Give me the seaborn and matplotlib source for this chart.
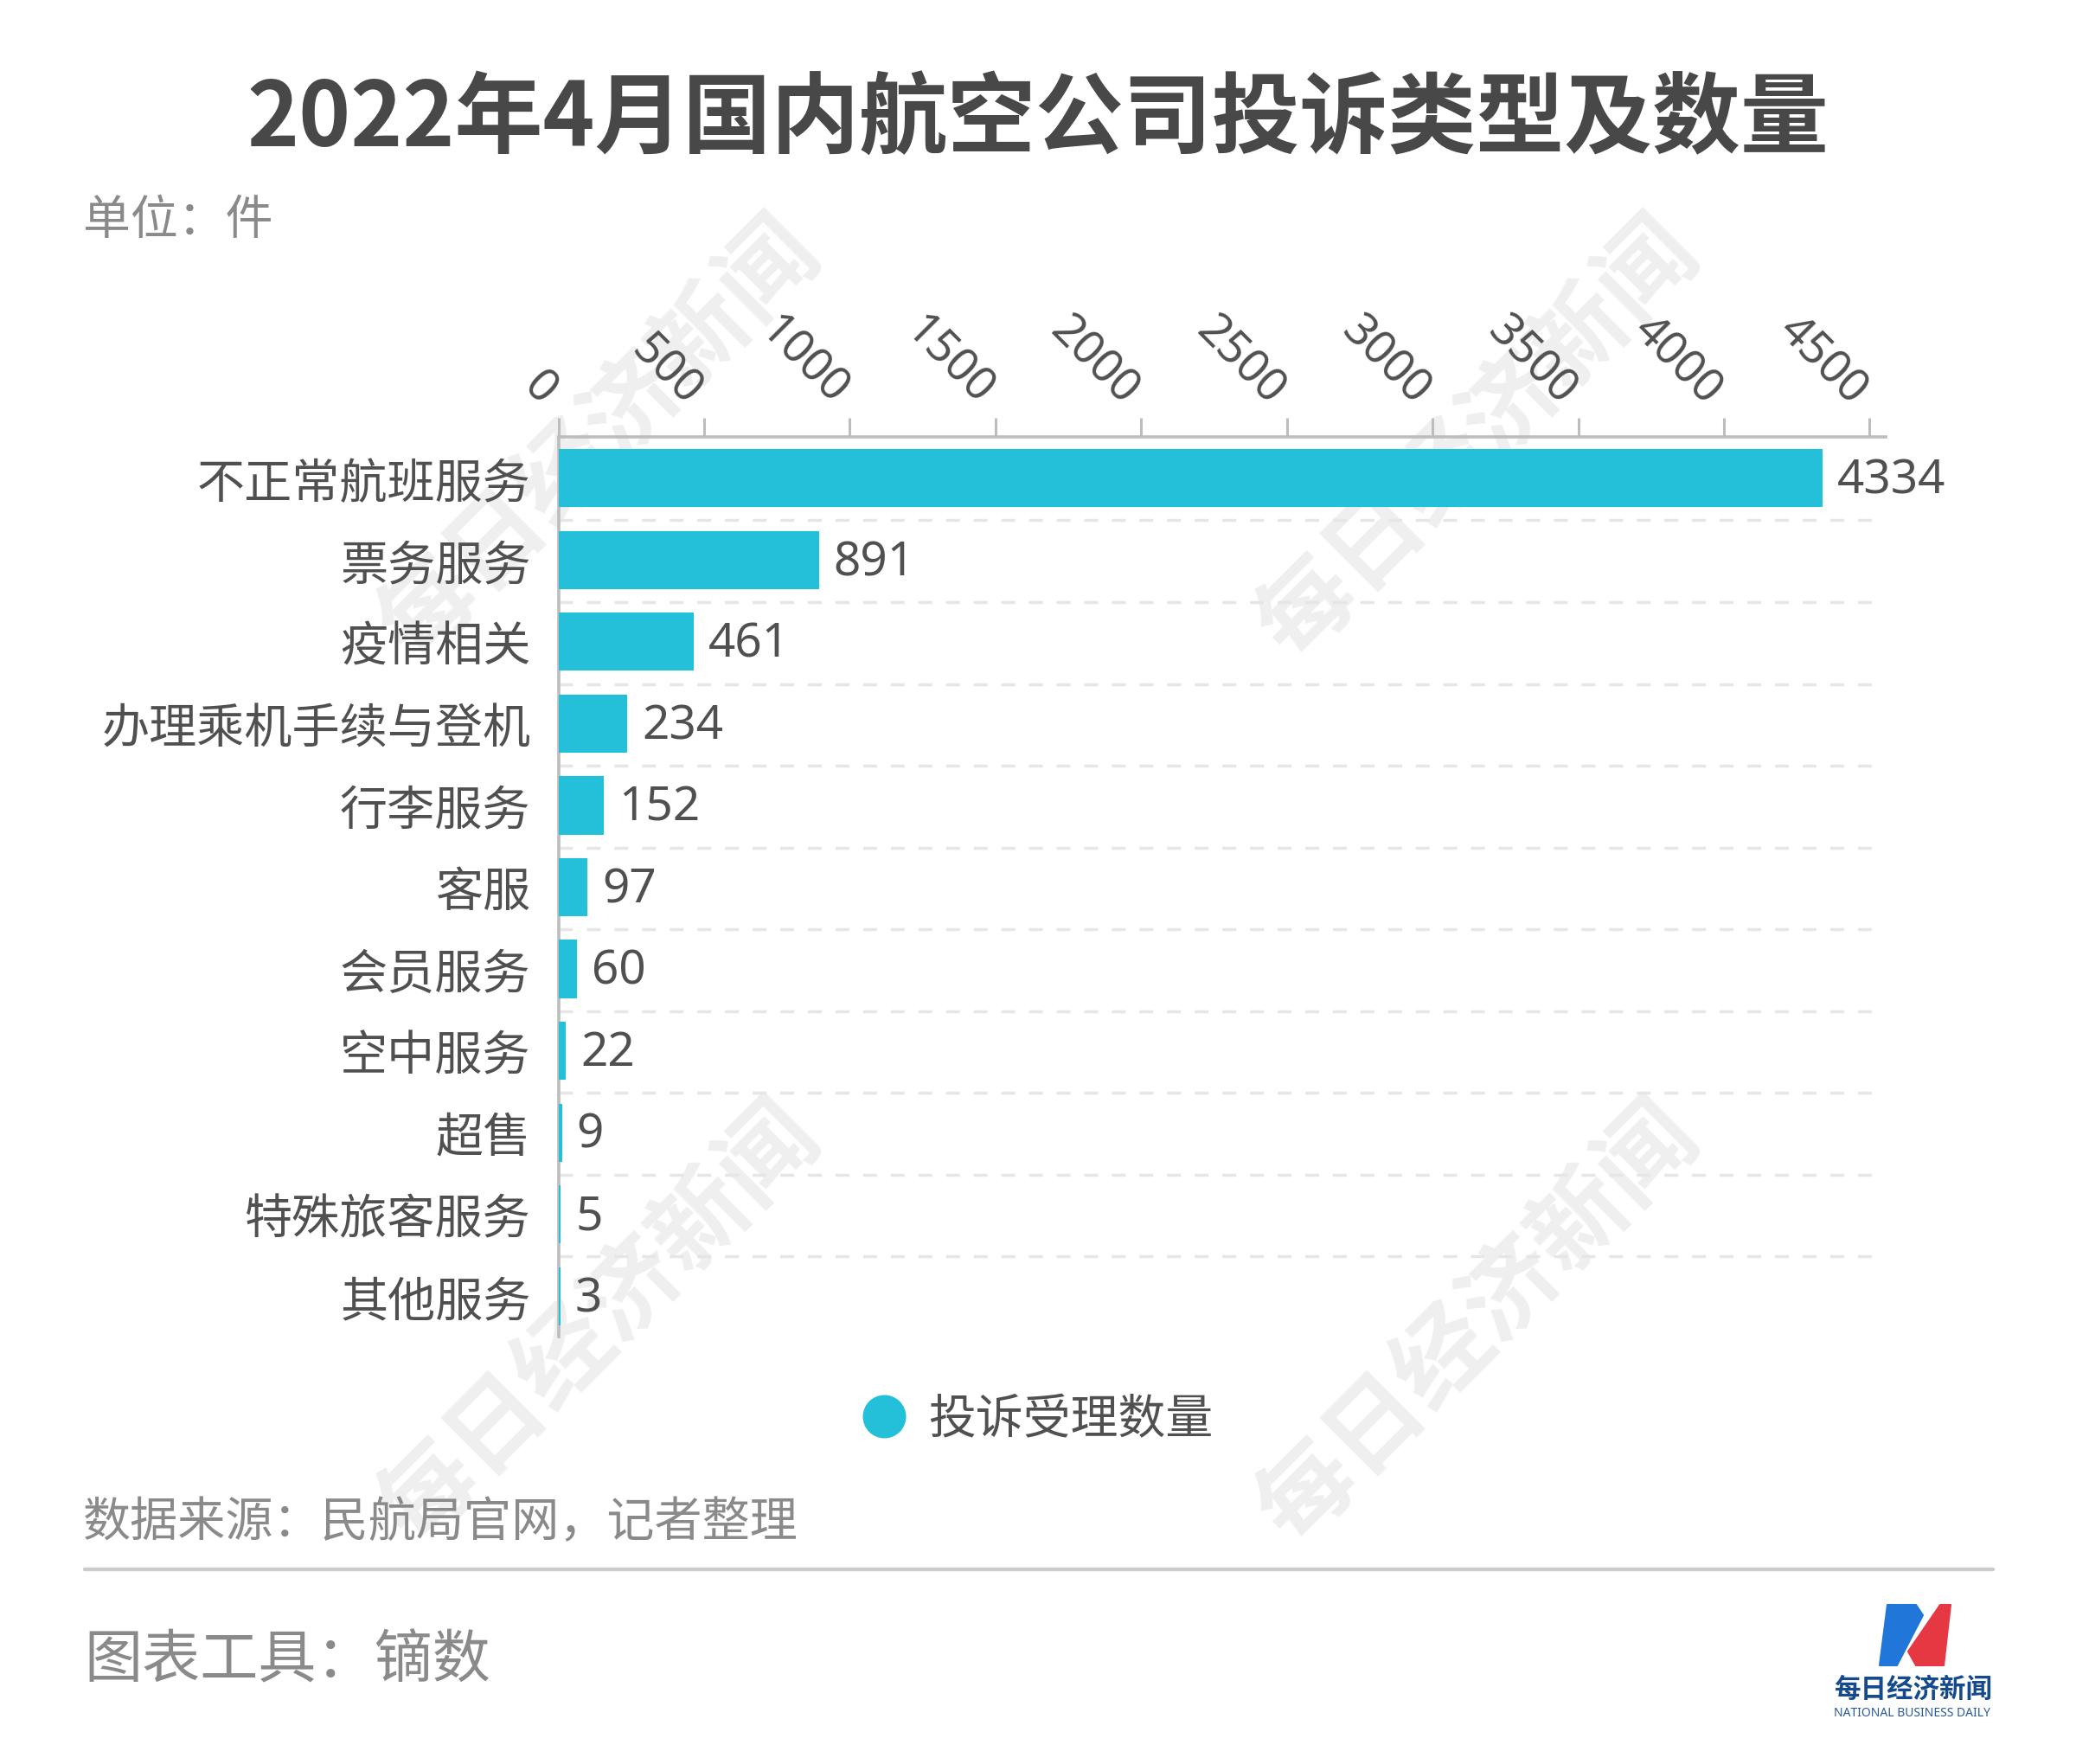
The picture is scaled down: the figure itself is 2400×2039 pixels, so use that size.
""" 2022年4月国内航空公司投诉类型及数量 """
import numpy as np
import pandas as pd
import seaborn as sns
import matplotlib.pyplot as plt
from matplotlib.lines import Line2D
from matplotlib.patches import Polygon
from matplotlib.transforms import ScaledTranslation

categories = ["不正常航班服务", "票务服务", "疫情相关", "办理乘机手续与登机", "行李服务", "客服",
              "会员服务", "空中服务", "超售", "特殊旅客服务", "其他服务"]
counts = [4334, 891, 461, 234, 152, 97, 60, 22, 9, 5, 3]
x_ticks = [0, 500, 1000, 1500, 2000, 2500, 3000, 3500, 4000, 4500]
series_name = "投诉受理数量"

W, H = 2400, 2040
BAR = "#24c0da"
AXIS = "#bdbdbd"
DARK = "#505050"
GREY = "#8a8a8a"
NUM_FONT = ["Noto Sans", "DejaVu Sans"]

sns.set_theme(style="white")
plt.rcParams['font.family'] = ['Noto Sans CJK SC', 'DejaVu Sans']

fig = plt.figure(figsize=(W / 100, H / 100), dpi=100, facecolor="white")

def fx(x):
    return x / W

def fy(y):
    return 1 - y / H

def put(x, y, s, **kw):
    kw.setdefault("va", "center")
    return fig.text(fx(x), fy(y), s, **kw)

# watermark, behind the axes
for cx, cy in [(694, 507), (1710, 507), (694, 1529), (1710, 1529)]:
    put(cx, cy, "每日经济新闻", ha="center", rotation=45, fontsize=80, fontweight="bold",
        color="#efefef", zorder=-1)

ax = fig.add_axes([fx(645.5), fy(1546), (2180 - 645.5) / W, (1546 - 506) / H])
ax.patch.set_alpha(0)

df = pd.DataFrame({"category": categories, "count": counts})
sns.barplot(data=df, x="count", y="category", orient="h", color=BAR, width=0.7,
            saturation=1, ax=ax, zorder=3, edgecolor=BAR, linewidth=0.8)
ax.set_xlim(0, 4555)
ax.set_ylim(10.5, -0.5)
ax.set_xlabel("")
ax.set_ylabel("")

# dashed separators between the categories
edges = np.arange(0.5, 10.5)
ax.hlines(edges + 0.02, 0, 4512, color="#e6e6e6", lw=2.5, linestyles=(0, (4.6, 4.6)), zorder=1)

for side in ["right", "bottom"]:
    ax.spines[side].set_visible(False)
for side in ["top", "left"]:
    ax.spines[side].set_color(AXIS)
    ax.spines[side].set_linewidth(2.6)

ax.xaxis.tick_top()
ax.set_xticks(x_ticks)
ax.set_xticklabels(x_ticks)
ax.tick_params(axis="x", length=16, width=2.2, color=AXIS, pad=10, labelsize=38, labelcolor=DARK)
shift = ScaledTranslation(-12 / 100, 9 / 100, fig.dpi_scale_trans)
for lab in ax.get_xticklabels():
    lab.set_rotation(-45)
    lab.set_rotation_mode("anchor")
    lab.set_ha("right")
    lab.set_va("center")
    lab.set_fontfamily(NUM_FONT)
    lab.set_fontweight("light")
    lab.set_transform(lab.get_transform() + shift)

ax.set_yticks(np.arange(-0.5, 10.5), minor=True)
ax.tick_params(axis="y", which="minor", length=15, width=2.6, color=AXIS)
ax.tick_params(axis="y", which="major", length=0, pad=23, labelsize=39.7, labelcolor=DARK)

value_labels = ax.bar_label(ax.containers[0], labels=[str(v) for v in counts], padding=13,
                            fontsize=39.5, color=DARK, family=NUM_FONT, fontweight="light")
for ann in value_labels:
    ann.xyann = (13, -2)

handle = Line2D([], [], marker="o", linestyle="", markersize=35, color=BAR)
leg = ax.legend([handle], [series_name], frameon=False, fontsize=39.5, labelcolor=DARK, ncol=1,
                loc="center", bbox_to_anchor=(fx(1200), fy(1641)), bbox_transform=fig.transFigure,
                handlelength=0.9, handletextpad=0.47)

put(1200, 139, "2022年4月国内航空公司投诉类型及数量", ha="center", fontsize=73.4, fontweight="bold", color="#484848")
put(96, 255, "单位：件", fontsize=39.5, color=GREY)
put(96, 1760, "数据来源：民航局官网，记者整理", fontsize=39.7, color=GREY)
put(97, 1921, "图表工具：镝数", fontsize=48.3, color=GREY)

# rule above the footer
fig.add_artist(Line2D([fx(98), fx(2304)], [fy(1815), fy(1815)], color="#cccccc", lw=3.2))

# logo
blue = [(2182, 1856), (2215, 1856), (2223, 1868), (2193, 1926), (2173, 1926)]
red = [(2243, 1856), (2255, 1856), (2247, 1926), (2215, 1926), (2206, 1910)]
for pts, col in [(blue, "#2176d9"), (red, "#e63843")]:
    fig.add_artist(Polygon([(fx(x), fy(y)) for x, y in pts], closed=True, transform=fig.transFigure,
                           facecolor=col, edgecolor=col, lw=1.5, joinstyle="round"))
put(2212, 1953, "每日经济新闻", ha="center", fontsize=22, fontweight="bold", color="#154a8c")
put(2210, 1981, "NATIONAL BUSINESS DAILY", ha="center", fontsize=10, color="#2a5a96", family=["Noto Sans"])

fig.savefig("out.png", dpi=100, facecolor="white")
